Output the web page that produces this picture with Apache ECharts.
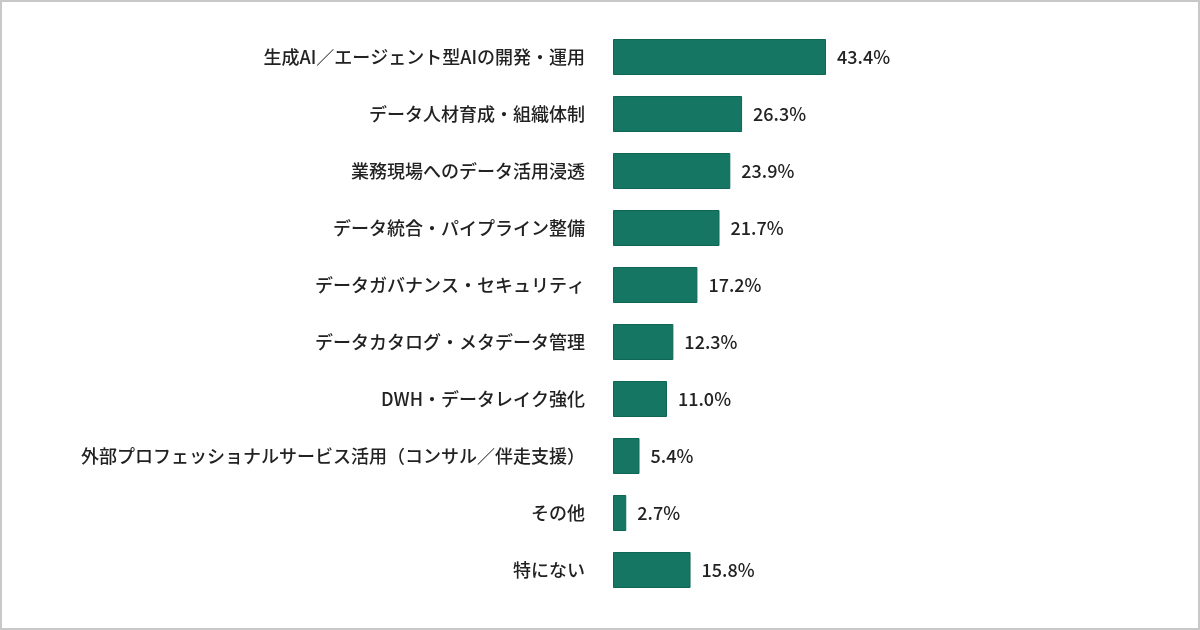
<!DOCTYPE html>
<html>
<head>
<meta charset="utf-8">
<script src="https://cdn.jsdelivr.net/npm/echarts@6/dist/echarts.min.js"></script>
<style>
  html, body { margin: 0; padding: 0; background: #fff; }
  #main { width: 1200px; height: 630px; }
</style>
</head>
<body>
<div id="main"></div>
<script>
  // 項目（上から順）
  const categories = [
    '生成AI／エージェント型AIの開発・運用',
    'データ人材育成・組織体制',
    '業務現場へのデータ活用浸透',
    'データ統合・パイプライン整備',
    'データガバナンス・セキュリティ',
    'データカタログ・メタデータ管理',
    'DWH・データレイク強化',
    '外部プロフェッショナルサービス活用（コンサル／伴走支援）',
    'その他',
    '特にない'
  ];
  // 割合（%）
  const values = [43.4, 26.3, 23.9, 21.7, 17.2, 12.3, 11.0, 5.4, 2.7, 15.8];

  const barColor = '#157763';
  const textColor = '#222222';
  const fontFamily = '"Noto Sans CJK JP", "Noto Sans", sans-serif';

  let myChart = echarts.init(document.getElementById('main'));
  myChart.setOption({
    animation: false,
    backgroundColor: '#ffffff',
    grid: {
      left: 613,
      top: 28.5,
      width: 245.4,
      height: 570,
      containLabel: false
    },
    xAxis: {
      type: 'value',
      min: 0,
      max: 50,
      show: false
    },
    yAxis: {
      type: 'category',
      inverse: true,
      data: categories,
      axisLine: { show: false },
      axisTick: { show: false },
      splitLine: { show: false },
      axisLabel: {
        margin: 28,
        color: textColor,
        fontSize: 18,
        fontWeight: 500,
        fontFamily: fontFamily
      }
    },
    series: [
      {
        type: 'bar',
        data: values,
        barWidth: 36,
        itemStyle: {
          color: barColor,
          borderColor: '#0f6654',
          borderWidth: 1
        },
        label: {
          show: true,
          position: 'right',
          distance: 11,
          color: textColor,
          fontSize: 18,
          fontWeight: 500,
          fontFamily: fontFamily,
          formatter: function (p) {
            return p.value.toFixed(1) + '%';
          }
        }
      }
    ],
    graphic: [
      {
        type: 'rect',
        shape: { x: 1, y: 1, width: 1198, height: 628 },
        style: { fill: 'none', stroke: '#c8c8c8', lineWidth: 2 },
        silent: true
      }
    ]
  });
</script>
</body>
</html>
